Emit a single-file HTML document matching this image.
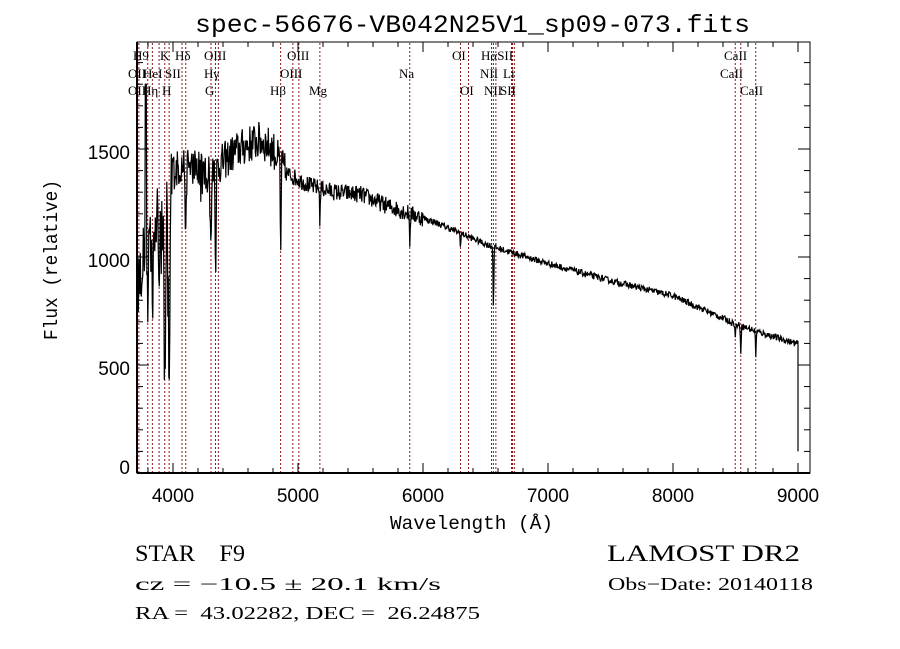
<!DOCTYPE html>
<html><head><meta charset="utf-8"><style>
html,body{margin:0;padding:0;background:#fff;width:900px;height:649px;overflow:hidden}
svg text{fill:#000}
.m{font-family:"Liberation Mono",monospace}
.s{font-family:"Liberation Serif",serif}
.a{font-family:"Liberation Sans",sans-serif}
</style></head><body>
<svg id="c" width="900" height="649" xmlns="http://www.w3.org/2000/svg">
<rect width="900" height="649" fill="#fff"/>
<text class="m" x="195" y="32" font-size="25" textLength="555" lengthAdjust="spacingAndGlyphs">spec-56676-VB042N25V1_sp09-073.fits</text>
<g id="lines" stroke="#8b1a1a" stroke-width="1" stroke-dasharray="2,2"></g>
<g id="labels" class="s" font-size="13"></g>
<path id="spec" fill="none" stroke="#000" stroke-width="1.2"/>
<rect x="137" y="42" width="673" height="431" fill="none" stroke="#000" stroke-width="1"/>
<line x1="137" y1="42" x2="137" y2="473" stroke="#000" stroke-width="2"/>
<line x1="137" y1="473" x2="810" y2="473" stroke="#000" stroke-width="2"/>
<g id="ticks" stroke="#000" stroke-width="1"></g>
<g class="a" font-size="19" text-anchor="middle">
<text x="173" y="502">4000</text><text x="298" y="502">5000</text><text x="423" y="502">6000</text>
<text x="548" y="502">7000</text><text x="673" y="502">8000</text><text x="798" y="502">9000</text>
</g>
<g class="a" font-size="19" text-anchor="end">
<text x="130" y="159">1500</text><text x="130" y="267">1000</text><text x="130" y="375">500</text><text x="130" y="474">0</text>
</g>
<text class="m" x="390" y="529" font-size="19" textLength="163" lengthAdjust="spacingAndGlyphs">Wavelength (Å)</text>
<text class="m" font-size="19" transform="translate(57,340) rotate(-90)" textLength="160" lengthAdjust="spacingAndGlyphs">Flux (relative)</text>
<text class="s" x="135" y="561" font-size="23" textLength="110" lengthAdjust="spacingAndGlyphs" xml:space="preserve">STAR    F9</text>
<text class="s" x="607" y="561" font-size="23" textLength="193" lengthAdjust="spacingAndGlyphs">LAMOST DR2</text>
<text class="s" x="135" y="590" font-size="18" textLength="306" lengthAdjust="spacingAndGlyphs">cz = −10.5 ± 20.1 km/s</text>
<text class="s" x="608" y="590" font-size="18" textLength="205" lengthAdjust="spacingAndGlyphs">Obs−Date: 20140118</text>
<text class="s" x="135" y="619" font-size="18" textLength="345" lengthAdjust="spacingAndGlyphs" xml:space="preserve">RA =  43.02282, DEC =  26.24875</text>
</svg>
<script>
(function(){
var X=function(l){return 173+(l-4000)*0.125;};
var Y=function(f){return 473-f*0.216;};
var ns="http://www.w3.org/2000/svg";
function el(p,t,a,txt){var e=document.createElementNS(ns,t);for(var k in a)e.setAttribute(k,a[k]);if(txt)e.textContent=txt;p.appendChild(e);return e;}
var L=[3727,3798,3835,3889,3934,3969,4072,4102,4304,4340,4363,4861,4959,5007,5175,5894,6300,6364,6548,6563,6583,6708,6716,6731,8498,8542,8662];
var g=document.getElementById('lines');
L.forEach(function(l){var x=X(l);el(g,'line',{x1:x,y1:43,x2:x,y2:472});});
var lb=[[133,60,"H9"],[160,60,"K"],[175,60,"Hδ"],[204,60,"OIII"],[287,60,"OIII"],[452,60,"OI"],[481,60,"HαSII"],[724,60,"CaII"],
[128,78,"OII"],[143,78,"HeI"],[165,78,"SII"],[204,78,"Hγ"],[280,78,"OIII"],[399,78,"Na"],[480,78,"NII"],[503,78,"Li"],[720,78,"CaII"],
[128,95,"OII"],[142,95,"Hη"],[162,95,"H"],[205,95,"G"],[270,95,"Hβ"],[309,95,"Mg"],[460,95,"OI"],[484,95,"NII"],[500,95,"SII"],[740,95,"CaII"]];
var gl=document.getElementById('labels');
lb.forEach(function(a){el(gl,'text',{x:a[0],y:a[1]},a[2]);});
var gt=document.getElementById('ticks');
for(var l=3800;l<=9000;l+=200){var x=X(l);var big=l%1000==0;el(gt,'line',{x1:x,y1:473,x2:x,y2:473-(big?10:5)});el(gt,'line',{x1:x,y1:42,x2:x,y2:42+(big?10:5)});}
for(var f=100;f<=1900;f+=100){var y=Y(f);if(y<42)break;var big=f%500==0;el(gt,'line',{x1:137,y1:y,x2:137+(big?12:6),y2:y});el(gt,'line',{x1:810,y1:y,x2:810-(big?12:6),y2:y});}
var s=12345;function r(){s=(s*16807)%2147483647;return s/2147483647;}
var cp=[[3712,850],[3760,1000],[3800,1100],[3850,1150],[3900,1200],[3980,1350],[4000,1400],[4100,1430],[4200,1420],[4280,1380],[4400,1440],[4500,1490],[4600,1520],[4700,1540],[4800,1500],[4850,1440],[4900,1390],[5000,1360],[5100,1330],[5300,1300],[5500,1290],[5700,1240],[5900,1200],[6100,1160],[6300,1110],[6500,1060],[6600,1040],[7000,970],[7500,890],[8000,820],[8500,690],[8700,650],[8980,600]];
function cont(l){for(var i=0;i<cp.length-1;i++){if(l<=cp[i+1][0]){var t=(l-cp[i][0])/(cp[i+1][0]-cp[i][0]);return cp[i][1]+t*(cp[i+1][1]-cp[i][1]);}}return 600;}
var ab=[[3934,900,6],[3969,900,6],[3889,350,4],[3835,400,4],[3798,300,4],[4102,380,4],[4304,300,4],[4340,450,4],[4861,450,3],[5175,150,3],[5894,130,3],[6563,280,3],[6300,60,3],[8498,70,3],[8542,120,3],[8662,110,3]];
var d="M137 473 L137 300 ";
for(var l=3714;l<=8998;l+=4){var f=cont(l);var n=l<4900?(l<4000?150:90):(l<6000?40:15);f+=(r()-0.5)*2*n;
if(l<4000&&r()<0.12)f-=r()*350;
if(l>4150&&l<4350&&r()<0.08)f-=r()*200;
ab.forEach(function(a){var z=(l-a[0])/a[2];f-=a[1]*Math.exp(-z*z/2);});
if(l>3776&&l<3788)f=1800;
if(f<0)f=0;
var x=X(l).toFixed(1),y=Y(f);d+="L"+x+" "+Math.max(43,y).toFixed(1)+" ";}
d+="L"+X(9000).toFixed(1)+" "+Y(600)+" L"+X(9000).toFixed(1)+" "+Y(100);
document.getElementById('spec').setAttribute('d',d);
})();
</script>
</body></html>
